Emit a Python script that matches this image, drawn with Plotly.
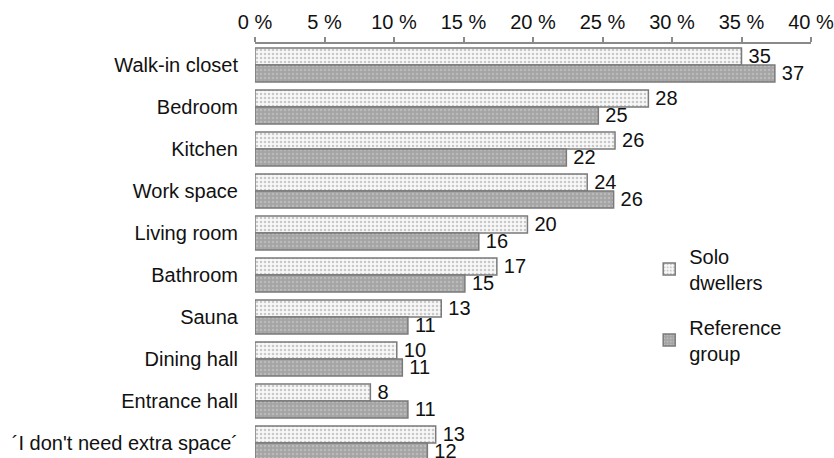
import plotly.graph_objects as go

categories = ["Walk-in closet", "Bedroom", "Kitchen", "Work space", "Living room",
              "Bathroom", "Sauna", "Dining hall", "Entrance hall", "´I don't need extra space´"]
solo = [35.0, 28.3, 25.9, 23.9, 19.6, 17.4, 13.4, 10.2, 8.3, 13.0]
solo_labels = ["35", "28", "26", "24", "20", "17", "13", "10", "8", "13"]
reference = [37.4, 24.7, 22.4, 25.8, 16.1, 15.1, 11.0, 10.6, 11.0, 12.4]
reference_labels = ["37", "25", "22", "26", "16", "15", "11", "11", "11", "12"]
tick_vals = [0, 5, 10, 15, 20, 25, 30, 35, 40]
tick_text = ["0 %", "5 %", "10 %", "15 %", "20 %", "25 %", "30 %", "35 %", "40 %"]

FONT = "Liberation Sans, Arial, sans-serif"
FS = 20

fig = go.Figure()
fig.add_trace(go.Bar(
    y=categories, x=solo, orientation="h", name="Solo<br>dwellers",
    text=solo_labels, texttemplate="\u2009%{text}", textposition="outside",
    cliponaxis=False, constraintext="none",
    textfont=dict(size=FS, color="#111", family=FONT),
    marker=dict(color="#f4f4f4",
                pattern=dict(shape=".", bgcolor="#f8f8f8", fgcolor="#9a9a9a", size=4, solidity=0.35),
                line=dict(color="#7a7a7a", width=1.5)),
    legendgroup="a",
))
fig.add_trace(go.Bar(
    y=categories, x=reference, orientation="h", name="Reference<br>group",
    text=reference_labels, texttemplate="\u2009%{text}", textposition="outside",
    cliponaxis=False, constraintext="none",
    textfont=dict(size=FS, color="#111", family=FONT),
    marker=dict(color="#a8a8a8",
                pattern=dict(shape=".", bgcolor="#a4a4a4", fgcolor="#d0d0d0", size=4, solidity=0.3),
                line=dict(color="#7a7a7a", width=1.5)),
    legendgroup="b",
))

fig.update_layout(
    width=834, height=458,
    margin=dict(l=255, r=23, t=44, b=0),
    paper_bgcolor="white", plot_bgcolor="white",
    barmode="group", bargap=0.19, bargroupgap=0,
    font=dict(family=FONT, size=FS, color="#111"),
    showlegend=True,
    legend=dict(x=0.709, y=0.535, xanchor="left", yanchor="top",
                traceorder="grouped", tracegroupgap=16,
                font=dict(size=FS, family=FONT, color="#111"),
                bgcolor="rgba(0,0,0,0)", itemwidth=30),
    xaxis=dict(side="top", range=[0, 40], tickmode="array", tickvals=tick_vals, ticktext=tick_text,
               showgrid=False, zeroline=False, showline=True, linecolor="#8a8a8a", linewidth=1.5,
               ticks="outside", ticklen=5, tickcolor="#8a8a8a", tickwidth=1.5,
               ticklabeloverflow="allow",
               tickfont=dict(size=FS, family=FONT, color="#111")),
    yaxis=dict(categoryorder="array", categoryarray=categories,
               range=[9.36, -0.5], showgrid=False, zeroline=False, showline=False,
               ticks="", ticklabelstandoff=16,
               tickfont=dict(size=FS, family=FONT, color="#111")),
)

fig.write_html("out.html", config={"displayModeBar": False},
               post_script="document.body.style.margin='0';document.body.style.overflow='hidden';")
